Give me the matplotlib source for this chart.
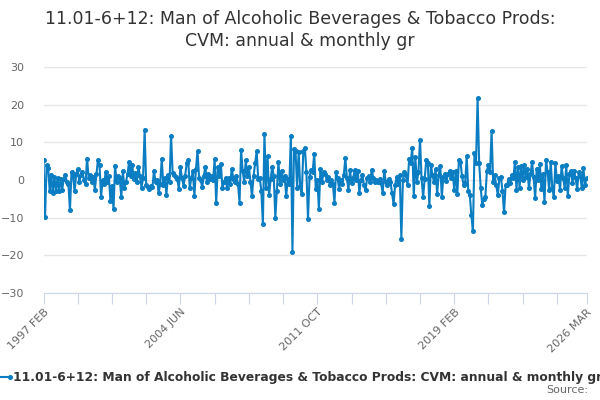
import numpy as np
import pandas as pd
import matplotlib
matplotlib.use("Agg")
import matplotlib.pyplot as plt
from matplotlib.lines import Line2D

# Monthly growth, 1997 FEB .. 2026 MAR
growth_1997_2004 = [
    5.3, -9.9, 4.0, 3.2, -3.0, 1.2, -3.4, 0.8, -2.8, 0.5,
    -3.0, 0.3, -2.6, 0.2, 1.3, -0.5, -1.0, -8.0, 2.2, 1.0,
    -3.0, 1.5, 2.8, -0.5, 1.2, 2.2, 0.0, -1.0, 5.7, 0.5,
    1.2, -0.5, 0.8, -2.6, 1.5, 5.4, 4.0, -4.5, 0.0, -1.0,
    2.2, -0.5, 1.0, -5.5, -1.5, -7.8, 3.8, -0.5, 1.0, 0.5,
    -4.6, 2.4, -2.0, -0.5, 1.5, 4.8, 1.0, 4.0, 0.3, 1.8,
    -0.5, 3.4, 1.0, -2.0, 0.5, 13.4, -1.3, -1.9, -2.3, -1.5,
    -1.9, 2.4, -0.5, 0.0, -3.5, -1.0, 5.6, -1.3, 0.5, -3.9,
    1.2, -0.5, 11.8, 1.8, 1.2, 0.8, 0.2, -2.3,
]
growth_2004_2011 = [
    3.5, 0.5,
    -1.5, 1.0, 4.4, 5.4, -2.2, 0.5, 2.3, -4.3, 3.0, 7.7,
    0.6, 0.0, -1.9, 1.0, 3.5, -0.5, 1.5, 0.2, 1.1, 0.0,
    5.5, -6.1, 3.5, 1.0, 4.3, -2.2, -0.5, 0.5, -2.2, 0.5,
    -1.0, 3.0, 0.3, -0.5, 1.0, -1.0, -6.0, 8.0, 2.5, -0.5,
    5.2, 1.0, 3.5, -0.5, -4.3, 1.0, 4.4, 7.7, 0.3, 0.5,
    -2.8, -11.7, 12.2, -2.2, 6.3, -4.0, 0.3, 3.5, 1.0, -10.0,
    -2.8, 4.7, -1.1, 2.5, 0.0, 1.0, -4.3, 0.3, -1.0, 11.8,
    -19.0, 8.3, 7.7, -2.2, 7.4, -1.7, -3.6, 7.7, 8.4, 2.0,
    -10.3, 0.9, 2.6, 2.2, 7.0, -2.3,
]
growth_2011_2019 = [
    0.0, -7.6, 3.0, -0.5,
    2.0, 1.5, 0.1, 0.7, -1.4, 0.0, -1.0, -6.0, 2.0, 0.5,
    -2.3, 0.0, -1.0, 1.3, 5.8, 0.5, -2.7, 2.6, -0.9, 0.5,
    2.6, 0.0, 2.5, -3.5, 0.0, 1.2, -1.4, -2.7, 0.5, 1.0,
    -0.5, 2.7, 0.5, -0.6, 0.0, -0.5, 0.3, -0.9, -3.5, 2.4,
    -0.5, -1.4, 0.2, -0.5, -3.5, -6.4, -1.4, 0.9, -1.0, 1.2,
    -15.6, 0.0, 2.2, 1.2, -1.4, 5.6, 4.5, 8.6, -4.3, 6.0,
    -0.5, 2.2, 10.7, 0.4, -4.5, 0.3, 5.2, 4.6, -7.0, 4.0,
    1.3, -0.5, 3.0, -3.8, 1.4, 3.7, -4.5, 0.9, 1.5, -0.2,
    1.5, 2.4, 0.5, 2.0,
]
growth_2019_2026 = [
    -2.6, 2.4, -3.6, 5.3, 4.8, 1.0,
    -1.4, -0.9, 6.3, -2.8, -4.0, -9.4, -13.6, 7.1, 4.6, 21.7,
    4.5, -2.0, -6.6, -5.0, -4.5, 2.5, 3.9, 2.0, 13.1, -0.5,
    1.2, -1.4, -4.1, 0.4, 0.9, -3.0, -8.6, -1.4, -1.2, 0.3,
    -0.8, 1.4, 0.5, 4.8, -2.6, 3.5, -2.0, 3.7, -0.1, 3.9,
    0.7, 3.0, -2.2, 1.5, 4.7, 0.7, -4.7, 3.0, 0.0, 4.2,
    -2.4, 1.5, -5.8, 5.4, 2.0, -2.7, 4.8, -2.0, -4.4, 4.6,
    -0.2, 1.1, -2.6, 3.7, 0.4, -2.0, 3.9, -4.3, 1.5, 2.3,
    -0.7, 2.5, 0.4, -2.4, 2.0, 1.1, -2.2, 3.2, -1.3, 0.4,
]
growth = growth_1997_2004 + growth_2004_2011 + growth_2011_2019 + growth_2019_2026

months = pd.period_range("1997-02", periods=len(growth), freq="M")
labels = [f"{p.year} {p.strftime('%b').upper()}" for p in months]

title = "11.01-6+12: Man of Alcoholic Beverages & Tobacco Prods:\nCVM: annual & monthly gr"
series_name = "11.01-6+12: Man of Alcoholic Beverages & Tobacco Prods: CVM: annual & monthly gr"
yticks = [-30, -20, -10, 0, 10, 20, 30]

blue = "#0b7dc2"

fig = plt.figure(figsize=(6, 4), dpi=100)
ax = fig.add_axes([0.0725, 0.2675, 0.905, 0.565])

x = np.arange(len(growth))
ax.plot(x, growth, color=blue, lw=1.5, marker="o", ms=2.6, zorder=3)

ax.set_ylim(-30, 30)
ax.set_xlim(0, len(growth) - 1)
ax.set_yticks(yticks)
ax.grid(axis="y", color="#e6e6e6", lw=1)
ax.set_axisbelow(True)
for s in ["top", "right", "left"]:
    ax.spines[s].set_visible(False)
ax.spines["bottom"].set_color("#ccd6eb")
ax.tick_params(axis="y", length=0, labelsize=8, labelcolor="#666666", pad=14)

#ticks every 22 months plus the last month
tick_pos = list(range(0, len(growth), 22)) + [len(growth) - 1]
ax.set_xticks(tick_pos)
ax.set_xticklabels([labels[t] if (k % 4 == 0 or t == len(growth) - 1) else ""
                    for k, t in enumerate(tick_pos)],
                   rotation=45, ha="right", rotation_mode="anchor")
ax.tick_params(axis="x", length=8, color="#ccd6eb", labelsize=8, labelcolor="#666666", pad=2)
for lab in ax.get_yticklabels():
    lab.set_horizontalalignment("right")

fig.text(0.5, 0.975, title, ha="center", va="top", fontsize=12.5, color="#333333",
         linespacing=1.25)

#legend at the bottom, running past the right edge as in the source
fig.add_artist(Line2D([0.0, 0.017], [0.0575, 0.0575], transform=fig.transFigure,
                      color=blue, lw=1.5, marker="o", ms=2.6, markevery=[1]))
fig.text(0.022, 0.0575, series_name, ha="left", va="center", fontsize=8.8,
         fontweight="bold", color="#333333")
fig.text(0.98, 0.025, "Source:", ha="right", va="center", fontsize=8, color="#666666")

fig.savefig("out.png", dpi=100)
